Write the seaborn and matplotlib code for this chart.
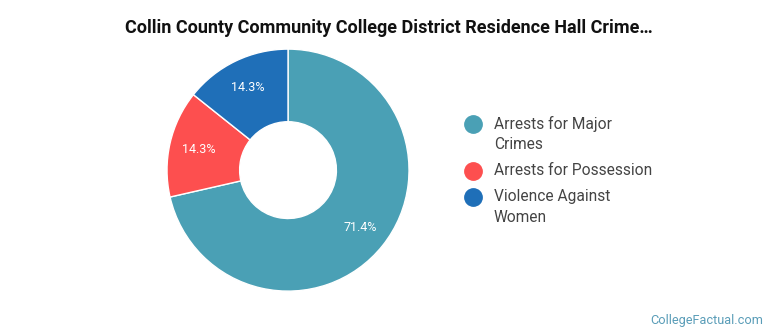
import matplotlib
matplotlib.use("Agg")
import matplotlib.pyplot as plt
from matplotlib.lines import Line2D
import numpy as np
import seaborn as sns

sns.set_theme(style="white")
plt.rcParams['font.family'] = ['Roboto', 'DejaVu Sans']

title = "Collin County Community College District Residence Hall Crime\u2026"
categories = ["Arrests for Major\nCrimes", "Arrests for Possession", "Violence Against\nWomen"]
values = [5, 1, 1]
pct_labels = ["71.4%", "14.3%", "14.3%"]
colors = ["#4aa0b5", "#fd4f4f", "#1f6fb8"]

W, H = 770, 335
fig = plt.figure(figsize=(7.7, 3.35), dpi=100)
fig.patch.set_facecolor("white")

ax = fig.add_axes([0.2169, 0.131, 0.3143, 0.7224])
wedges, _ = ax.pie(values, colors=colors, startangle=90, counterclock=False,
                   radius=1.0, wedgeprops=dict(width=0.6, edgecolor="white", linewidth=1))
total = sum(values)
ang = 90.0
for v, lab in zip(values, pct_labels):
    span = 360.0 * v / total
    mid = np.deg2rad(ang - span / 2)
    ang -= span
    ax.text(0.76 * np.cos(mid), 0.76 * np.sin(mid), lab, ha="center", va="center",
            color="white", fontsize=9)
ax.set_xlim(-1, 1)
ax.set_ylim(-1, 1)
ax.set_aspect("equal")
ax.axis("off")

fig.text(0.505, 0.915, title, ha="center", va="center", fontsize=13,
         fontweight="bold", color="#111111")

# legend (drawn manually so markers align with the first text line)
y = 124.0
line_h = 20.5
gap = 5.5
for cat, c in zip(categories, colors):
    fig.add_artist(Line2D([473 / W], [1 - y / H], marker="o", linestyle="",
                          markersize=12.5, markerfacecolor=c, markeredgecolor=c,
                          transform=fig.transFigure))
    for i, line in enumerate(cat.split("\n")):
        fig.text(494 / W, 1 - (y + i * line_h) / H, line, ha="left", va="center",
                 fontsize=11.2, color="#444444")
    y += len(cat.split("\n")) * line_h + gap

fig.text(0.991, 0.042, "CollegeFactual.com", ha="right", va="center", fontsize=9.2,
         color="#5a9db8")

fig.savefig("out.png", dpi=100, facecolor="white")
